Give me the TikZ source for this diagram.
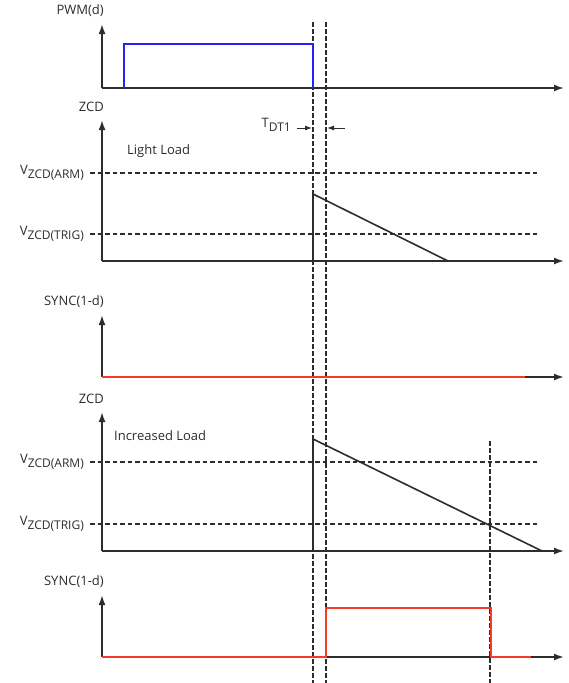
\documentclass[tikz,border=0pt]{standalone}
\usepackage{fontspec}
\setmainfont{Open Sans}
\usetikzlibrary{arrows.meta}
\definecolor{pwmblue}{RGB}{35,35,245}
\definecolor{syncred}{RGB}{240,60,40}
\definecolor{inkgray}{RGB}{45,45,45}

\newcommand{\vlevel}[1]{V\raisebox{-3.5pt}{\fontsize{12}{14}\selectfont #1}}

\begin{document}
\begin{tikzpicture}[x=1pt, y=-1pt,
    axis/.style={line width=1.7pt, draw=inkgray, -{Latex[length=10pt,width=7pt]}},
    level/.style={line width=1.1pt, draw=inkgray, dash pattern=on 4.5pt off 3pt},
    marker/.style={line width=1.1pt, draw=inkgray, dash pattern=on 4.5pt off 2.5pt},
    wave/.style={line width=1.6pt, line join=miter},
    lbl/.style={font=\fontsize{13}{15}\selectfont, text=inkgray, inner sep=0pt}]
  \useasboundingbox (0,0) rectangle (568,683);

  % time markers
  \coordinate (ton) at (313,22);
  \coordinate (tsync) at (326,22);
  \draw[marker] (ton) -- (313,683);
  \draw[marker] (tsync) -- (326,683);
  \draw[marker] (490,441) -- (490,683);

  % threshold levels
  \foreach \y/\txt in {173/ARM, 234/TRIG, 462/ARM, 524/TRIG} {
    \node[lbl, anchor=east] (lv-\y) at (84,\y) {\vlevel{ZCD(\txt)}};
    \draw[level] (90,\y) -- (540,\y);
  }

  % axes: name / label / arrow tip / baseline
  \foreach \name/\txt/\top/\base in {pwm/PWM(d)/24/88, zcda/ZCD/120/261,
      synca/SYNC(1-d)/315/377, zcdb/ZCD/412/551, syncb/SYNC(1-d)/595/657} {
    \coordinate (\name-o) at (102,\base);
    \node[lbl, anchor=east] (\name-lbl) at (104,\top-13) {\txt};
    \draw[axis] (\name-o) -- (102,\top);
    \draw[axis] (\name-o) -- (564,\base);
  }

  % waveforms
  \draw[wave, pwmblue] (124,88) -- (124,44) -- (313,44) -- (313,88);
  \draw[wave, inkgray] (313,261) -- (313,194) -- (448,261);
  \draw[wave, syncred] (synca-o) -- (525,377);
  \draw[wave, inkgray] (313,551) -- (313,439) -- (542,551);
  \draw[wave, syncred] (syncb-o) -- (326,657) -- (326,608) -- (491,608)
    -- (491,657) -- (531,657);

  \node[lbl, anchor=west] (light) at (127,151) {Light Load};
  \node[lbl, anchor=west] (heavy) at (114,436) {Increased Load};

  % dead time
  \node[lbl, anchor=east] (tdt) at (291,125) {T\raisebox{-3.5pt}{\fontsize{12}{14}\selectfont DT1}};
  \coordinate (dt-l) at (312,128);
  \coordinate (dt-r) at (327,128);
  \draw[line width=1pt, inkgray, -{Latex[length=7pt,width=5pt]}] (297,128) -- (dt-l);
  \draw[line width=1pt, inkgray, -{Latex[length=7pt,width=5pt]}] (345,128) -- (dt-r);
\end{tikzpicture}
\end{document}
